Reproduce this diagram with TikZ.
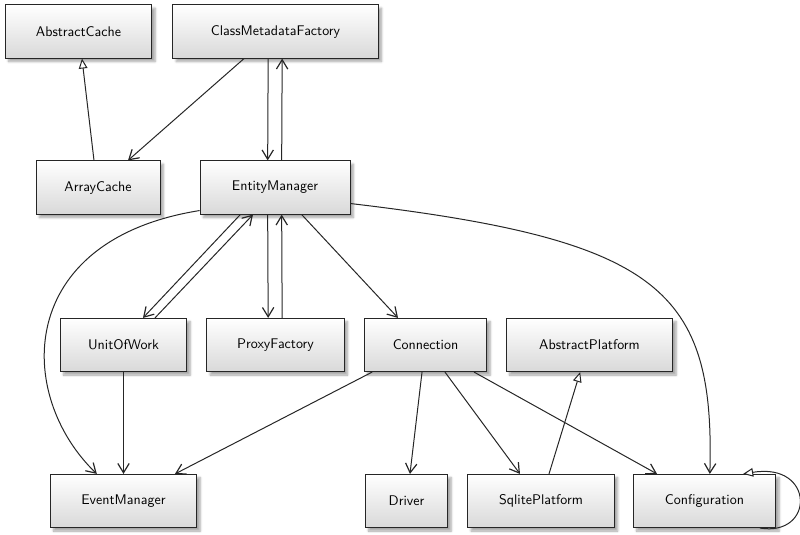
\documentclass[tikz,border=0pt]{standalone}
\usepackage{tikz}
\usetikzlibrary{arrows.meta}
\usetikzlibrary{shadows.blur}
\tikzset{
  klass/.style={draw=black!85, line width=0.6pt, top color=white, bottom color=black!15,
    minimum height=40pt, inner sep=0.75pt, font=\sffamily\fontsize{10.5}{12}\selectfont,
    blur shadow={shadow xshift=2.5pt, shadow yshift=-2.5pt, shadow blur steps=6, shadow opacity=35}},
  assoc/.style={draw=black!85, line width=0.75pt, -{Straight Barb[length=7pt,width=8.5pt,line width=0.9pt]}},
  inherit/.style={draw=black!85, line width=0.75pt, -{Triangle[open,length=7.5pt,width=6.5pt,fill=white]}}
}
\begin{document}
\begin{tikzpicture}[x=0.75pt,y=0.75pt,yscale=-1,xscale=1]
\useasboundingbox (0,0) rectangle (800,535);

% Class Node
\node [klass, minimum width=110pt] (abscache) at (78.5,31.5) {AbstractCache};
% Class Node
\node [klass, minimum width=154pt] (cmfactory) at (275.5,31.5) {ClassMetadataFactory};
% Class Node
\node [klass, minimum width=93pt] (arrcache) at (98,187.5) {ArrayCache};
% Class Node
\node [klass, minimum width=112.5pt] (entman) at (275,187.5) {EntityManager};
% Class Node
\node [klass, minimum width=95pt] (unitwork) at (123.5,345) {UnitOfWork};
% Class Node
\node [klass, minimum width=103pt] (proxyfac) at (275.5,345) {ProxyFactory};
% Class Node
\node [klass, minimum width=92pt] (conn) at (425.5,345) {Connection};
% Class Node
\node [klass, minimum width=125pt] (absplat) at (589.5,345) {AbstractPlatform};
% Class Node
\node [klass, minimum width=110pt] (evtman) at (123.5,501) {EventManager};
% Class Node
\node [klass, minimum width=62pt] (driver) at (406.5,501) {Driver};
% Class Node
\node [klass, minimum width=110pt] (sqlplat) at (541,501) {SqlitePlatform};
% Class Node
\node [klass, minimum width=107pt] (config) at (704.5,501) {Configuration};

%Straight Lines
\draw [inherit] ([xshift=-3pt]arrcache.north) -- ([xshift=2.6pt]abscache.south);
\draw [assoc] ([xshift=-23.6pt]cmfactory.south) -- ([xshift=22.5pt]arrcache.north);
\draw [assoc] ([xshift=-5.5pt]cmfactory.south) -- ([xshift=-5.5pt]entman.north);
\draw [assoc] ([xshift=5pt]entman.north) -- ([xshift=5pt]cmfactory.south);
\draw [assoc] ([xshift=-26pt]entman.south) -- ([xshift=14.6pt]unitwork.north);
\draw [assoc] ([xshift=23.6pt]unitwork.north) -- ([xshift=-16.5pt]entman.south);
\draw [assoc] ([xshift=-5.5pt]entman.south) -- ([xshift=-5.5pt]proxyfac.north);
\draw [assoc] ([xshift=5pt]proxyfac.north) -- ([xshift=5pt]entman.south);
\draw [assoc] ([xshift=20pt]entman.south) -- ([xshift=-20.6pt]conn.north);
\draw [assoc] (unitwork.south) -- (evtman.north);
\draw [assoc] ([xshift=-40pt]conn.south) -- ([xshift=38.6pt]evtman.north);
\draw [assoc] ([xshift=-2.6pt]conn.south) -- ([xshift=2.6pt]driver.north);
\draw [assoc] ([xshift=14.6pt]conn.south) -- ([xshift=-15.75pt]sqlplat.north);
\draw [assoc] ([xshift=36.4pt]conn.south) -- ([xshift=-35.6pt]config.north);
\draw [inherit] ([xshift=6pt]sqlplat.north) -- ([xshift=-7pt]absplat.south);

%Curves
\draw [assoc] (entman.197) .. controls (15,240) and (15,395) .. ([xshift=-20pt]evtman.north);
\draw [assoc] (entman.-12) .. controls (660,240) and (715,290) .. ([xshift=4pt]config.north);
\draw [inherit] ([xshift=41.6pt]config.south) .. controls (815,537) and (815,462) .. ([xshift=29pt]config.north);

\end{tikzpicture}
\end{document}
